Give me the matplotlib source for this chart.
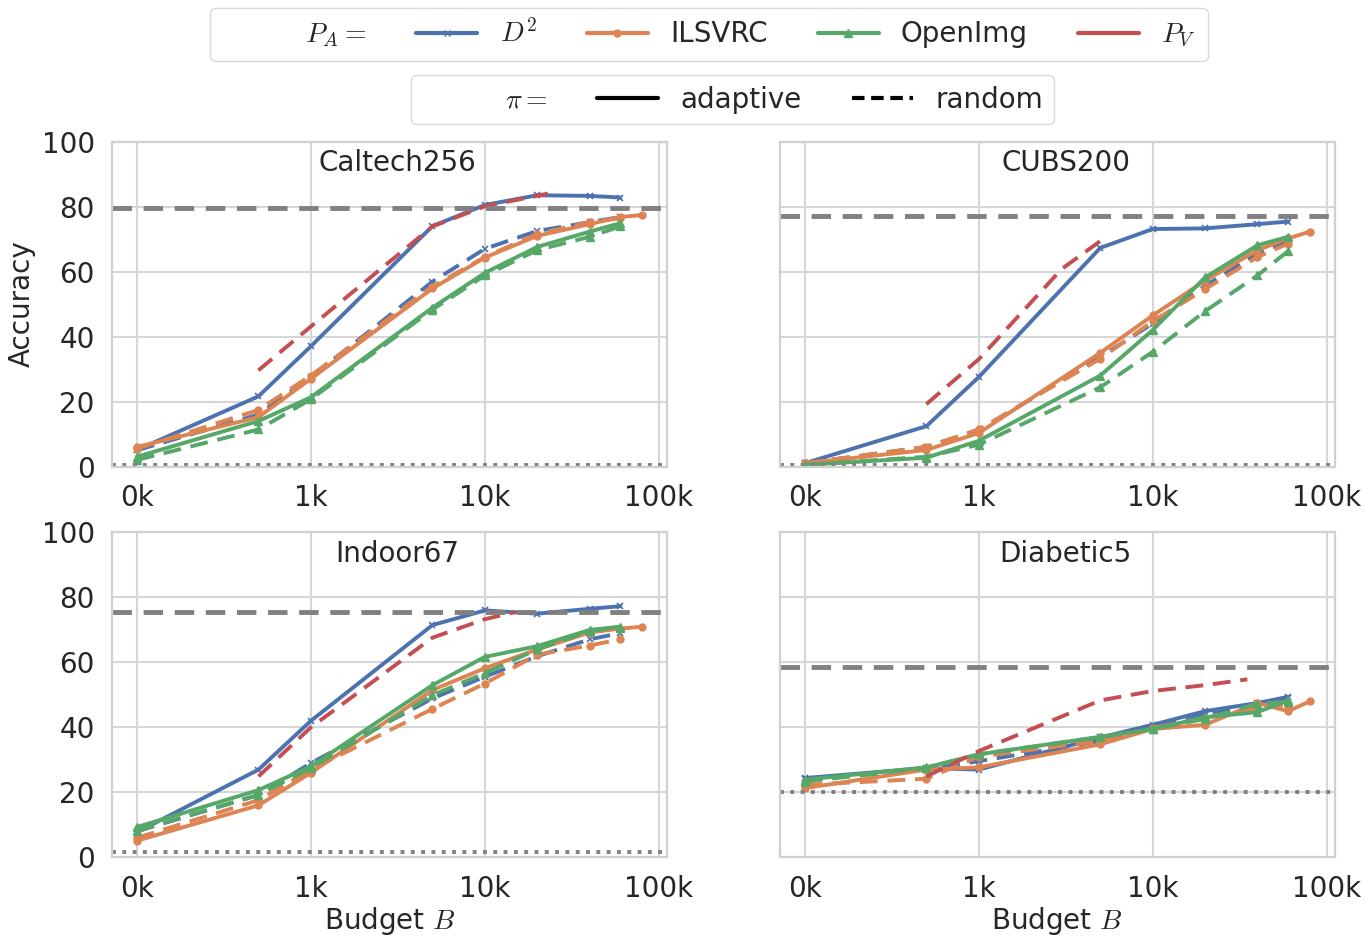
import matplotlib
matplotlib.use("Agg")
import matplotlib.pyplot as plt
from matplotlib.lines import Line2D
from matplotlib.ticker import FuncFormatter, NullFormatter, FixedLocator
import seaborn as sns

sns.set_style("whitegrid")
plt.rcParams['font.family'] = ['DejaVu Sans']
plt.rcParams['mathtext.fontset'] = 'cm'

# budgets (first point is 100 -> shown as "0k")
budgets = [100, 500, 1000, 5000, 10000, 20000, 40000, 60000]
budgets_ilsvrc = budgets + [80000]   # ILSVRC adaptive goes one step further

datasets = ['Caltech256', 'CUBS200', 'Indoor67', 'Diabetic5']

# accuracy of the fully fine-tuned model (grey dashed) and chance level (grey dotted)
full_acc = [79.5, 77.2, 75.5, 58.7]
chance_acc = [0.4, 0.5, 1.5, 20.0]

# Caltech256
cal_d2_ad = [5.1, 21.6, 37.0, 74.0, 80.5, 83.5, 83.3, 82.8]
cal_d2_rd = [5.0, 16.0, 27.5, 56.9, 67.0, 72.5, 75.2, 76.8]
cal_il_ad = [6.0, 15.2, 27.0, 54.8, 64.3, 71.0, 74.6, 76.8, 77.4]
cal_il_rd = [5.5, 17.4, 28.0, 55.4, 64.5, 71.6, 75.2, 76.4]
cal_op_ad = [3.0, 14.0, 21.3, 48.9, 59.6, 67.6, 72.3, 74.9]
cal_op_rd = [2.0, 11.4, 20.7, 48.3, 58.8, 66.6, 70.7, 73.9]
cal_pv_x = [500, 1000, 5000, 10000, 23000]
cal_pv_rd = [29.6, 43.1, 73.9, 80.1, 84.0]

# CUBS200
cub_d2_ad = [1.0, 12.4, 27.5, 67.3, 73.1, 73.3, 74.6, 75.4]
cub_d2_rd = [1.0, 6.0, 11.0, 33.7, 44.0, 55.6, 65.5, 69.2]
cub_il_ad = [1.0, 5.1, 10.3, 35.0, 46.5, 57.2, 66.6, 70.2, 72.3]
cub_il_rd = [1.0, 6.1, 11.4, 33.2, 44.7, 54.6, 64.5, 68.6]
cub_op_ad = [0.5, 2.7, 7.9, 28.0, 42.0, 58.2, 68.1, 70.7]
cub_op_rd = [0.5, 3.0, 6.7, 24.4, 35.3, 47.8, 58.8, 66.3]
cub_pv_x = [500, 1000, 3000, 5500]
cub_pv_rd = [19.2, 33.0, 60.8, 71.0]

# Indoor67
ind_d2_ad = [7.7, 27.0, 42.0, 71.5, 76.0, 75.0, 76.5, 77.3]
ind_d2_rd = [8.0, 19.2, 29.0, 48.9, 55.6, 61.9, 67.1, 69.0]
ind_il_ad = [5.1, 16.0, 26.0, 51.5, 58.2, 64.0, 69.2, 70.4, 71.0]
ind_il_rd = [6.0, 17.6, 27.0, 45.7, 53.5, 62.4, 65.2, 67.1]
ind_op_ad = [9.3, 20.7, 28.0, 53.0, 61.7, 65.0, 70.0, 71.0]
ind_op_rd = [8.2, 19.2, 27.5, 49.9, 56.7, 64.0, 69.7, 70.7]
ind_pv_x = [500, 1000, 5000, 10000, 15000]
ind_pv_rd = [24.9, 40.0, 67.6, 73.3, 75.5]

# Diabetic5
dia_d2_ad = [24.4, 27.5, 27.0, 36.9, 40.8, 45.0, 47.5, 49.4]
dia_d2_rd = [24.0, 27.0, 29.6, 35.8, 40.0, 44.2, 47.3, 48.9]
dia_il_ad = [21.3, 27.0, 27.7, 34.8, 39.5, 40.8, 47.5, 45.0, 48.0]
dia_il_rd = [22.3, 24.2, 31.0, 35.8, 39.8, 43.0, 46.0, 46.8]
dia_op_ad = [23.9, 27.7, 31.7, 37.1, 39.5, 43.1, 44.7, 48.3]
dia_op_rd = [23.3, 27.5, 31.7, 37.0, 39.5, 42.6, 47.3, 47.8]
dia_pv_x = [500, 1000, 5000, 10000, 20000, 35000]
dia_pv_rd = [24.9, 32.7, 48.3, 51.2, 53.0, 54.8]

all_data = [
    (cal_d2_ad, cal_d2_rd, cal_il_ad, cal_il_rd, cal_op_ad, cal_op_rd, cal_pv_x, cal_pv_rd),
    (cub_d2_ad, cub_d2_rd, cub_il_ad, cub_il_rd, cub_op_ad, cub_op_rd, cub_pv_x, cub_pv_rd),
    (ind_d2_ad, ind_d2_rd, ind_il_ad, ind_il_rd, ind_op_ad, ind_op_rd, ind_pv_x, ind_pv_rd),
    (dia_d2_ad, dia_d2_rd, dia_il_ad, dia_il_rd, dia_op_ad, dia_op_rd, dia_pv_x, dia_pv_rd),
]

c_blue, c_orange, c_green, c_red = '#4C72B0', '#DD8452', '#55A868', '#C44E52'
FS = 20
LW = 2.8
DASH = (4.6, 2.5)

fig, axes = plt.subplots(2, 2, figsize=(13.66, 9.38), dpi=100, sharex=True, sharey=True)
fig.subplots_adjust(left=0.082, right=0.977, top=0.849, bottom=0.086, wspace=0.204, hspace=0.203)

for ax, name, d, fa, ch in zip(axes.flat, datasets, all_data, full_acc, chance_acc):
    d2a, d2r, ila, ilr, opa, opr, pvx, pvr = d
    ax.plot(budgets, d2a, color=c_blue, lw=LW, marker='x', ms=5, mew=1.2)
    ax.plot(budgets, d2r, color=c_blue, lw=LW, marker='x', ms=5, mew=1.2, dashes=DASH)
    ax.plot(budgets_ilsvrc, ila, color=c_orange, lw=LW, marker='o', ms=5)
    ax.plot(budgets, ilr, color=c_orange, lw=LW, marker='o', ms=5, dashes=DASH)
    ax.plot(budgets, opa, color=c_green, lw=LW, marker='^', ms=6)
    ax.plot(budgets, opr, color=c_green, lw=LW, marker='^', ms=6, dashes=DASH)
    ax.plot(pvx, pvr, color=c_red, lw=LW, dashes=DASH)
    ax.axhline(fa, color='#808080', lw=3.5, dashes=(4, 2.4))
    ax.axhline(ch, color='#808080', lw=2.8, linestyle=':')

    ax.set_xscale('log')
    ax.set_ylim(0, 100)
    ax.xaxis.set_major_locator(FixedLocator([100, 1000, 10000, 100000]))
    ax.xaxis.set_major_formatter(FuncFormatter(lambda x, p: f"{x/1000:.0f}k"))
    ax.xaxis.set_minor_formatter(NullFormatter())
    ax.set_yticks([0, 20, 40, 60, 80, 100])
    ax.tick_params(labelsize=FS, labelbottom=True, pad=9)
    ax.grid(True, which='major', color='#d6d6d6', lw=1.5)
    ax.grid(False, which='minor')
    for s in ax.spines.values():
        s.set_color('#d0d0d0')
        s.set_linewidth(1.6)
    ax.text(0.515, 0.935, name, transform=ax.transAxes, ha='center', va='center', fontsize=FS)

axes[0, 0].set_xlim(72, 111000)
axes[0, 0].set_ylabel('Accuracy', fontsize=FS, labelpad=4)
axes[1, 0].set_xlabel('Budget $B$', fontsize=FS, labelpad=2)
axes[1, 1].set_xlabel('Budget $B$', fontsize=FS, labelpad=2)

blank = Line2D([], [], color='none')
h1 = [blank,
      Line2D([], [], color=c_blue, lw=3, marker='x', ms=5),
      Line2D([], [], color=c_orange, lw=3, marker='o', ms=5),
      Line2D([], [], color=c_green, lw=3, marker='^', ms=6),
      Line2D([], [], color=c_red, lw=3)]
l1 = ['$P_A =$', '$D^2$', 'ILSVRC', 'OpenImg', '$P_V$']
leg1 = fig.legend(h1, l1, loc='upper center', bbox_to_anchor=(0.519, 0.9915), ncol=5,
                  fontsize=FS, handlelength=2.2, handletextpad=0.8, columnspacing=1.8,
                  frameon=True, edgecolor='#d0d0d0', borderpad=0.42, borderaxespad=0)

h2 = [blank,
      Line2D([], [], color='black', lw=3),
      Line2D([], [], color='black', lw=3, dashes=(3, 1.6))]
l2 = ['$\\pi =$', 'adaptive', 'random']
leg2 = fig.legend(h2, l2, loc='upper center', bbox_to_anchor=(0.536, 0.92), ncol=3,
                  fontsize=FS, handlelength=2.2, handletextpad=0.8, columnspacing=1.8,
                  frameon=True, edgecolor='#d0d0d0', borderpad=0.38, borderaxespad=0)

plt.savefig('out.png', dpi=100)
